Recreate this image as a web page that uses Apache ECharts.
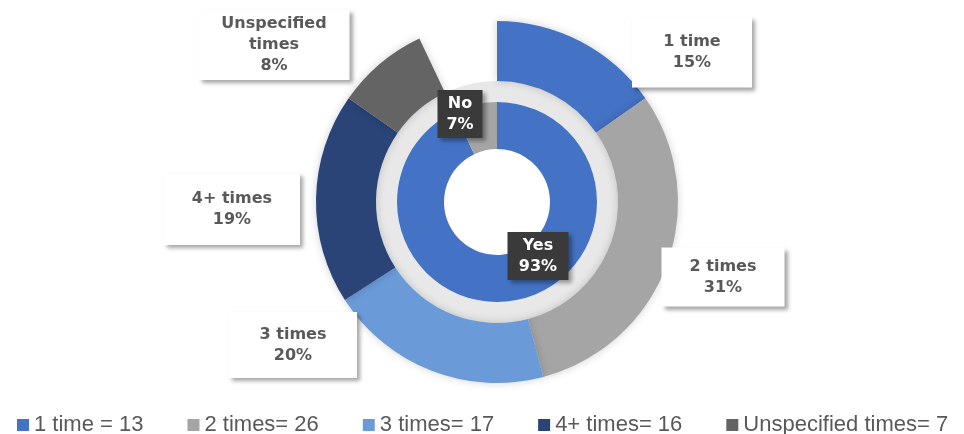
<!DOCTYPE html>
<html>
<head>
<meta charset="utf-8">
<title>Nested donut</title>
<script src="https://cdn.jsdelivr.net/npm/echarts@6/dist/echarts.min.js"></script>
<style>
  html, body { margin: 0; padding: 0; background: #fff; }
  #chart { width: 964px; height: 434px; }
</style>
</head>
<body>
<div id="chart"></div>
<script>
  // outer ring: how many times
  const outerNames = ['1 time', '2 times', '3 times', '4+ times', 'Unspecified times'];
  const outerLabelNames = ['1 time', '2 times', '3 times', '4+ times', 'Unspecified\ntimes'];
  const outerValues = [13, 26, 17, 16, 7];
  const outerColors = ['#4472C4', '#A5A5A5', '#6A9BD8', '#2A4478', '#646464'];

  // inner ring: yes / no
  const innerNames = ['Yes', 'No'];
  const innerValues = [79, 6];
  const innerColors = ['#4472C4', '#A5A5A5'];

  // label boxes: [centerX, centerY, width, height]
  const outerBoxes = [[692, 52, 120, 71], [723, 277, 123, 59], [293, 345, 128, 66], [232, 209, 136, 72], [274, 45, 151, 70]];
  const innerBoxes = [[538, 256, 61, 48], [460, 114, 45, 48]];

  const LINE_H = 21;
  const center = [497, 202];

  const boxLabel = (box, lines, dark) => ({
    show: true,
    position: 'inside',
    width: box[2],
    padding: [(box[3] - lines * LINE_H) / 2, 0],
    align: 'center',
    verticalAlign: 'middle',
    lineHeight: LINE_H,
    fontFamily: 'DejaVu Sans',
    fontWeight: 'bold',
    fontSize: 16,
    color: dark ? '#ffffff' : '#595959',
    backgroundColor: dark ? '#3a3a3a' : '#ffffff',
    shadowColor: 'rgba(0,0,0,0.35)',
    shadowBlur: 4,
    shadowOffsetX: 3,
    shadowOffsetY: 3
  });

  const outerData = outerNames.map((name, i) => ({
    name: name,
    value: outerValues[i],
    itemStyle: { color: outerColors[i] },
    label: boxLabel(outerBoxes[i], outerLabelNames[i].split('\n').length + 1, false)
  }));
  // blank part of the outer ring matches the "No" share
  outerData.push({
    name: '',
    value: innerValues[1],
    itemStyle: { color: 'rgba(0,0,0,0)' },
    label: { show: false },
    emphasis: { disabled: true },
    tooltip: { show: false }
  });

  const innerData = innerNames.map((name, i) => ({
    name: name,
    value: innerValues[i],
    itemStyle: { color: innerColors[i] },
    label: boxLabel(innerBoxes[i], 2, true)
  }));

  const chart = echarts.init(document.getElementById('chart'));
  chart.setOption({
    backgroundColor: '#ffffff',
    animation: false,
    legend: {
      data: outerNames,
      left: 12,
      top: 409,
      icon: 'rect',
      itemWidth: 12,
      itemHeight: 12,
      itemGap: 44,
      textStyle: {
        fontFamily: 'Liberation Sans',
        fontSize: 22,
        color: '#595959'
      },
      formatter: (name) => {
        const i = outerNames.indexOf(name);
        return name + (i === 0 ? ' = ' : '= ') + outerValues[i];
      }
    },
    series: [
      {
        // light gray band between the rings
        type: 'pie',
        silent: true,
        center: center,
        radius: [100, 121],
        label: { show: false },
        labelLine: { show: false },
        data: [{ value: 1, name: 'band', itemStyle: { color: '#e8e8e8' } }]
      },
      {
        type: 'pie',
        center: center,
        radius: [53, 100],
        startAngle: 90,
        clockwise: true,
        avoidLabelOverlap: false,
        labelLine: { show: false },
        label: {
          formatter: (p) => p.name + '\n' + Math.round(p.percent) + '%'
        },
        labelLayout: (p) => ({
          x: innerBoxes[p.dataIndex][0],
          y: innerBoxes[p.dataIndex][1],
          align: 'center',
          verticalAlign: 'middle'
        }),
        data: innerData
      },
      {
        type: 'pie',
        center: center,
        radius: [121, 181],
        startAngle: 90,
        clockwise: true,
        avoidLabelOverlap: false,
        labelLine: { show: false },
        itemStyle: {
          shadowBlur: 8,
          shadowColor: 'rgba(0,0,0,0.18)'
        },
        label: {
          formatter: (p) => outerLabelNames[p.dataIndex] + '\n' + Math.round(p.percent) + '%'
        },
        labelLayout: (p) => {
          const b = outerBoxes[p.dataIndex];
          if (!b) return {};
          return { x: b[0], y: b[1], align: 'center', verticalAlign: 'middle' };
        },
        data: outerData
      }
    ]
  });
</script>
</body>
</html>
